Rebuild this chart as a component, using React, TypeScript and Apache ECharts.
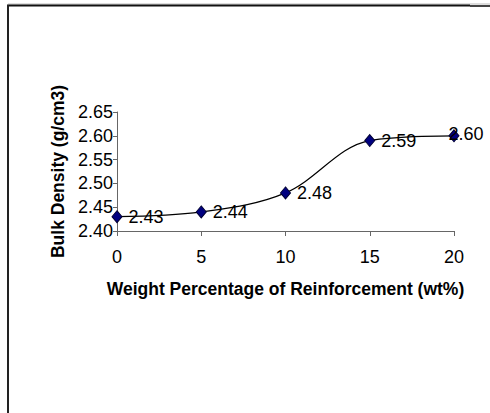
import React, { useEffect, useRef } from "react";
import * as echarts from "echarts";

const xValues = [0, 5, 10, 15, 20];
const densities = [2.43, 2.44, 2.48, 2.59, 2.6];
const xTicks = [0, 5, 10, 15, 20];
const yTicks = [2.4, 2.45, 2.5, 2.55, 2.6, 2.65];

export default function App() {
  const ref = useRef<HTMLDivElement>(null);
  useEffect(() => {
    document.body.style.margin = "0";
    const chart = echarts.init(ref.current!, null, { renderer: "svg" });
    const font = "Arial, 'Liberation Sans', sans-serif";
    const data = xValues.map((x, i) => {
      const d: any = { value: [x, densities[i]] };
      if (i === xValues.length - 1) {
        d.label = { offset: [-17, -2] };
      }
      return d;
    });
    chart.setOption({
      animation: false,
      backgroundColor: "#fff",
      grid: { left: 117, right: 36, top: 112, bottom: 182, containLabel: false },
      xAxis: {
        type: "value",
        min: xTicks[0],
        max: xTicks[xTicks.length - 1],
        interval: 5,
        name: "Weight Percentage of Reinforcement (wt%)",
        nameLocation: "middle",
        nameGap: 49,
        nameTextStyle: { fontFamily: font, fontWeight: "bold", fontSize: 17.5, color: "#000" },
        axisLine: { lineStyle: { color: "#666", width: 1 } },
        axisTick: { show: true, length: 5, lineStyle: { color: "#666" } },
        axisLabel: { fontFamily: font, fontSize: 18, color: "#000", margin: 17 },
        splitLine: { show: false },
      },
      yAxis: {
        type: "value",
        min: yTicks[0],
        max: yTicks[yTicks.length - 1],
        interval: 0.05,
        name: "Bulk Density (g/cm3)",
        nameLocation: "middle",
        nameGap: 42,
        nameTextStyle: { fontFamily: font, fontWeight: "bold", fontSize: 17.5, color: "#000" },
        axisLine: { show: true, lineStyle: { color: "#666", width: 1 } },
        axisTick: { show: true, length: 4, lineStyle: { color: "#666" } },
        axisLabel: {
          fontFamily: font,
          fontSize: 18,
          color: "#000",
          margin: 4,
          formatter: (v: number) => v.toFixed(2),
        },
        splitLine: { show: false },
      },
      series: [
        {
          type: "line",
          data,
          smooth: 0.35,
          symbol: "diamond",
          symbolSize: [10, 12],
          itemStyle: { color: "#000080", borderColor: "#000033", borderWidth: 1 },
          lineStyle: { color: "#000", width: 1.2 },
          label: {
            show: true,
            position: "right",
            distance: 6,
            fontFamily: font,
            fontSize: 18,
            color: "#000",
            formatter: (p: any) => p.value[1].toFixed(2),
          },
        },
      ],
      graphic: [
        { type: "line", shape: { x1: 8, y1: 4, x2: 490, y2: 4 }, style: { stroke: "#bbb", lineWidth: 1 } },
        { type: "line", shape: { x1: 7, y1: 5.5, x2: 470, y2: 5.5 }, style: { stroke: "#111", lineWidth: 2 } },
        { type: "line", shape: { x1: 470, y1: 6, x2: 490, y2: 6 }, style: { stroke: "#444", lineWidth: 2 } },
        { type: "line", shape: { x1: 8, y1: 5, x2: 8, y2: 413 }, style: { stroke: "#222", lineWidth: 2 } },
      ],
    });
    return () => chart.dispose();
  }, []);
  return <div ref={ref} style={{ width: 490, height: 413 }} />;
}
